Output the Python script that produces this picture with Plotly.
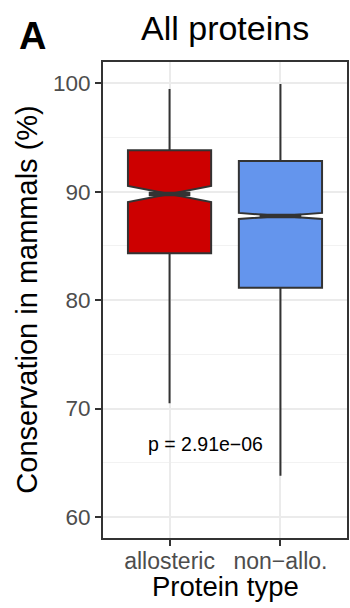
import plotly.graph_objects as go

# ---- data ----
categories = ["allosteric", "non\u2212allo."]
q1 = [84.32, 81.15]
median = [89.79, 87.76]
q3 = [93.82, 92.83]
lower_whisker = [70.49, 63.81]
upper_whisker = [99.47, 99.94]
notch_half = [0.74, 0.28]
fill_colors = ["#CD0000", "#6495ED"]
y_ticks = [60, 70, 80, 90, 100]
p_label = "p = 2.91e\u221206"

FONT = "Liberation Sans, Arial, Helvetica, sans-serif"
LINE = "#333333"
BOX_W = 0.75

positions = [i + 1 for i in range(len(categories))]

fig = go.Figure()
for i, cat in enumerate(categories):
    fig.add_trace(go.Box(
        x=[positions[i]],
        q1=[q1[i]], median=[median[i]], q3=[q3[i]],
        lowerfence=[lower_whisker[i]], upperfence=[upper_whisker[i]],
        notchspan=[notch_half[i]],
        notched=True, notchwidth=0.5,
        width=BOX_W, whiskerwidth=0,
        boxpoints=False,
        fillcolor=fill_colors[i],
        line=dict(color=LINE, width=2),
        name=cat, showlegend=False, hoverinfo="skip",
    ))
    # thick median bar (ggplot fatten)
    half = BOX_W / 2 * 0.5
    fig.add_trace(go.Scatter(
        x=[positions[i] - half, positions[i] + half],
        y=[median[i], median[i]],
        mode="lines", line=dict(color=LINE, width=4.5),
        showlegend=False, hoverinfo="skip",
    ))

fig.update_layout(
    width=350, height=608,
    margin=dict(l=103, r=1, t=62, b=70),
    paper_bgcolor="white", plot_bgcolor="white",
    font=dict(family=FONT, color="#4D4D4D"),
    xaxis=dict(
        range=[0.4, 2.6], tickvals=positions, ticktext=categories,
        showgrid=True, gridcolor="#EBEBEB", gridwidth=1.5,
        zeroline=False,
        showline=True, linecolor=LINE, linewidth=2, mirror=True,
        ticks="outside", ticklen=6, tickwidth=2, tickcolor=LINE,
        ticklabelstandoff=-5,
        tickfont=dict(size=23, color="#4D4D4D", family=FONT),
    ),
    yaxis=dict(
        range=[58.06, 101.96], tickvals=y_ticks,
        showgrid=True, gridcolor="#EBEBEB", gridwidth=1.5,
        minor=dict(dtick=5, tick0=65, showgrid=True, gridcolor="#F2F2F2", gridwidth=0.8, ticks=""),
        zeroline=False,
        showline=True, linecolor=LINE, linewidth=2, mirror=True,
        ticks="outside", ticklen=6, tickwidth=2, tickcolor=LINE,
        tickfont=dict(size=22.5, color="#4D4D4D", family=FONT),
    ),
    annotations=[
        dict(text="All proteins", xref="paper", yref="paper", x=0.5, y=(538 - 28) / 476,
             xanchor="center", yanchor="middle", showarrow=False,
             font=dict(size=34, color="black", family=FONT)),
        dict(text="<b>A</b>", xref="paper", yref="paper", x=(32 - 103) / 246, y=(538 - 36) / 476,
             xanchor="center", yanchor="middle", showarrow=False,
             font=dict(size=38, color="black", family=FONT)),
        dict(text="Conservation in mammals (%)", xref="paper", yref="paper",
             x=(26 - 103) / 246, y=0.5, textangle=-90,
             xanchor="center", yanchor="middle", showarrow=False,
             font=dict(size=29, color="black", family=FONT)),
        dict(text="Protein type", xref="paper", yref="paper", x=0.5, y=(538 - 586) / 476,
             xanchor="center", yanchor="middle", showarrow=False,
             font=dict(size=27.5, color="black", family=FONT)),
        dict(text=p_label, xref="x", yref="y", x=1.32, y=66.7,
             xanchor="center", yanchor="middle", showarrow=False,
             font=dict(size=19.5, color="black", family=FONT)),
    ],
)

fig.write_html(
    "out.html",
    config={"displayModeBar": False},
    post_script="document.body.style.margin='0';document.body.style.padding='0';",
)
